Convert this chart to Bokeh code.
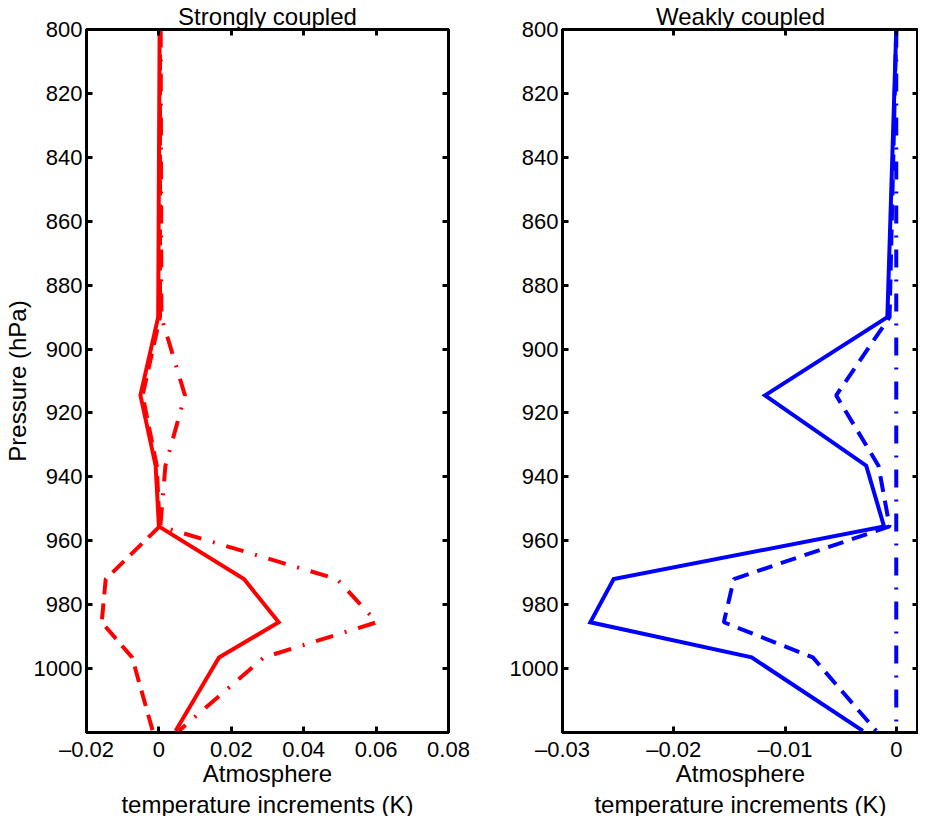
from bokeh.plotting import figure
from bokeh.models import Range1d, FixedTicker, LinearAxis, Title
from bokeh.layouts import row
from bokeh.embed import file_html
from bokeh.resources import INLINE

# ---- data ----
pressure = [800, 890, 914.5, 936.5, 955.5, 972, 985.5, 996.5, 1019.5]

strong_solid = [0.0002, -0.0002, -0.0051, -0.0009, 0.0, 0.0235, 0.0331, 0.0166, 0.0046]
strong_dashed = [0.0003, 0.0003, -0.0045, -0.0006, 0.0002, -0.0147, -0.0158, -0.0074, -0.0017]
strong_dashdot = [0.0005, 0.0007, 0.0072, 0.0018, 0.0004, 0.0492, 0.0602, 0.0290, 0.0055]

weak_solid = [0.0, -0.0008, -0.0118, -0.0027, -0.0011, -0.0254, -0.0275, -0.0130, -0.0030]
weak_dashed = [0.0, -0.0006, -0.0054, -0.0016, -0.0006, -0.0146, -0.0155, -0.0075, -0.0018]
weak_dashdot = [0.0, 0.0, 0.0, 0.0, 0.0, 0.0, 0.0, 0.0, 0.0]

y_ticks = [800, 820, 840, 860, 880, 900, 920, 940, 960, 980, 1000]

strong_x_ticks = [-0.02, 0.0, 0.02, 0.04, 0.06, 0.08]
strong_x_labels = ["\u20130.02", "0", "0.02", "0.04", "0.06", "0.08"]
weak_x_ticks = [-0.03, -0.02, -0.01, 0.0]
weak_x_labels = ["\u20130.03", "\u20130.02", "\u20130.01", "0"]

titles = ["Strongly coupled", "Weakly coupled"]
x_label_1 = "Atmosphere"
x_label_2 = "temperature increments (K)"
y_label = "Pressure (hPa)"

FONT = "Liberation Sans"
TICK_FS = "22px"
LABEL_FS = "24px"


def style_axis(ax, show_labels=True):
    ax.axis_line_width = 3
    ax.axis_line_color = "black"
    ax.major_tick_line_width = 3
    ax.major_tick_line_color = "black"
    ax.major_tick_in = 6
    ax.major_tick_out = 0
    ax.minor_tick_line_color = None
    ax.major_label_text_font = FONT
    ax.axis_label_text_font = FONT
    ax.axis_label_text_font_size = LABEL_FS
    ax.axis_label_text_font_style = "normal"
    ax.axis_label_text_color = "black"
    if show_labels:
        ax.major_label_text_font_size = TICK_FS
        ax.major_label_text_color = "black"
    else:
        ax.major_label_text_font_size = "1px"
        ax.major_label_text_color = None
        ax.major_label_standoff = 0


def panel(title, x_start, x_end, xticks, xlabels, series, color, frame_w,
          left_border, right_border, ylab):
    p = figure(frame_width=frame_w, height=816,
               x_range=Range1d(x_start, x_end), y_range=Range1d(1020, 800),
               output_backend="svg", toolbar_location=None,
               min_border_left=left_border, min_border_right=right_border,
               min_border_top=27, min_border_bottom=0)
    p.title.text = title
    p.title.align = "center"
    p.title.text_font = FONT
    p.title.text_font_size = LABEL_FS
    p.title.text_font_style = "normal"
    p.title.text_color = "black"
    p.title.standoff = 0
    p.title.offset = 0
    p.xgrid.visible = False
    p.ygrid.visible = False
    p.outline_line_color = "black"
    p.outline_line_width = 3
    p.background_fill_color = "white"
    p.border_fill_color = "white"

    p.xaxis.ticker = FixedTicker(ticks=xticks)
    p.xaxis.major_label_overrides = dict(zip(xticks, xlabels))
    p.xaxis.axis_label = x_label_1
    p.xaxis.major_label_standoff = 4
    p.xaxis.axis_label_standoff = -5
    p.yaxis.ticker = FixedTicker(ticks=y_ticks)
    p.yaxis.major_label_standoff = 4
    if ylab:
        p.yaxis.axis_label = ylab
        p.yaxis.axis_label_standoff = 0
    style_axis(p.xaxis[0])
    style_axis(p.yaxis[0])

    second = Title(text=x_label_2, align="center", text_font=FONT,
                   text_font_size=LABEL_FS, text_font_style="normal",
                   text_color="black", standoff=-2, offset=0)
    p.add_layout(second, "below")

    top = LinearAxis(ticker=FixedTicker(ticks=xticks))
    style_axis(top, show_labels=False)
    p.add_layout(top, "above")
    right = LinearAxis(ticker=FixedTicker(ticks=y_ticks))
    style_axis(right, show_labels=False)
    p.add_layout(right, "right")

    solid, dashed, dashdot = series
    p.line(solid, pressure, line_color=color, line_width=4, line_join="miter")
    p.line(dashed, pressure, line_color=color, line_width=4, line_dash="16 9")
    p.line(dashdot, pressure, line_color=color, line_width=4, line_dash="18 12 2 12")
    return p


p1 = panel(titles[0], -0.02, 0.08, strong_x_ticks, strong_x_labels,
           (strong_solid, strong_dashed, strong_dashdot), "#ff0000",
           362, 81, 38, y_label)
p2 = panel(titles[1], -0.03, 0.002, weak_x_ticks, weak_x_labels,
           (weak_solid, weak_dashed, weak_dashdot), "#0000ff",
           356, 76, 0, None)

layout = row(p1, p2)
open("out.html", "w").write(file_html(layout, INLINE))
